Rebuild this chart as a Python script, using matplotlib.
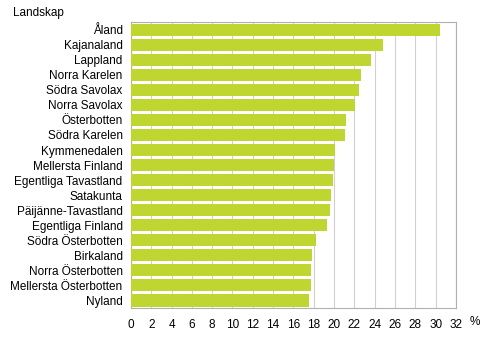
import matplotlib
matplotlib.use("Agg")
import matplotlib.pyplot as plt

regions = [
    "Åland", "Kajanaland", "Lappland", "Norra Karelen", "Södra Savolax",
    "Norra Savolax", "Österbotten", "Södra Karelen", "Kymmenedalen",
    "Mellersta Finland", "Egentliga Tavastland", "Satakunta",
    "Päijänne-Tavastland", "Egentliga Finland", "Södra Österbotten",
    "Birkaland", "Norra Österbotten", "Mellersta Österbotten", "Nyland",
]
values = [30.4, 24.8, 23.6, 22.7, 22.5, 22.1, 21.2, 21.1, 20.1, 20.0,
          19.9, 19.7, 19.6, 19.3, 18.2, 17.8, 17.7, 17.7, 17.5]
xticks = list(range(0, 33, 2))

plt.rcParams["font.family"] = ["Liberation Sans", "DejaVu Sans"]

fig = plt.figure(figsize=(4.94, 3.40), dpi=100)
ax = fig.add_axes([0.265, 0.094, 0.658, 0.841])

pos = list(range(len(regions)))
ax.barh(pos, values, height=0.8, color="#bed62f", zorder=3)
ax.set_yticks(pos)
ax.set_yticklabels(regions, fontsize=8.5)
ax.set_ylim(len(regions) - 0.5, -0.5)
ax.set_xlim(0, 32)
ax.set_xticks(xticks)
ax.set_xticklabels([str(t) for t in xticks], fontsize=8.5)
ax.tick_params(length=0, pad=6)
ax.tick_params(axis="x", pad=8)
ax.grid(axis="x", color="#d0d0d0", lw=0.8, zorder=0)
for s in ax.spines.values():
    s.set_color("#b0b0b0")
    s.set_linewidth(0.8)

fig.text(13 / 494, 1 - 13 / 340, "Landskap", fontsize=8.5, va="center")
fig.text(475 / 494, 1 - 322 / 340, "%", fontsize=8.5, va="center", ha="center")

fig.savefig("out.png", dpi=100)
